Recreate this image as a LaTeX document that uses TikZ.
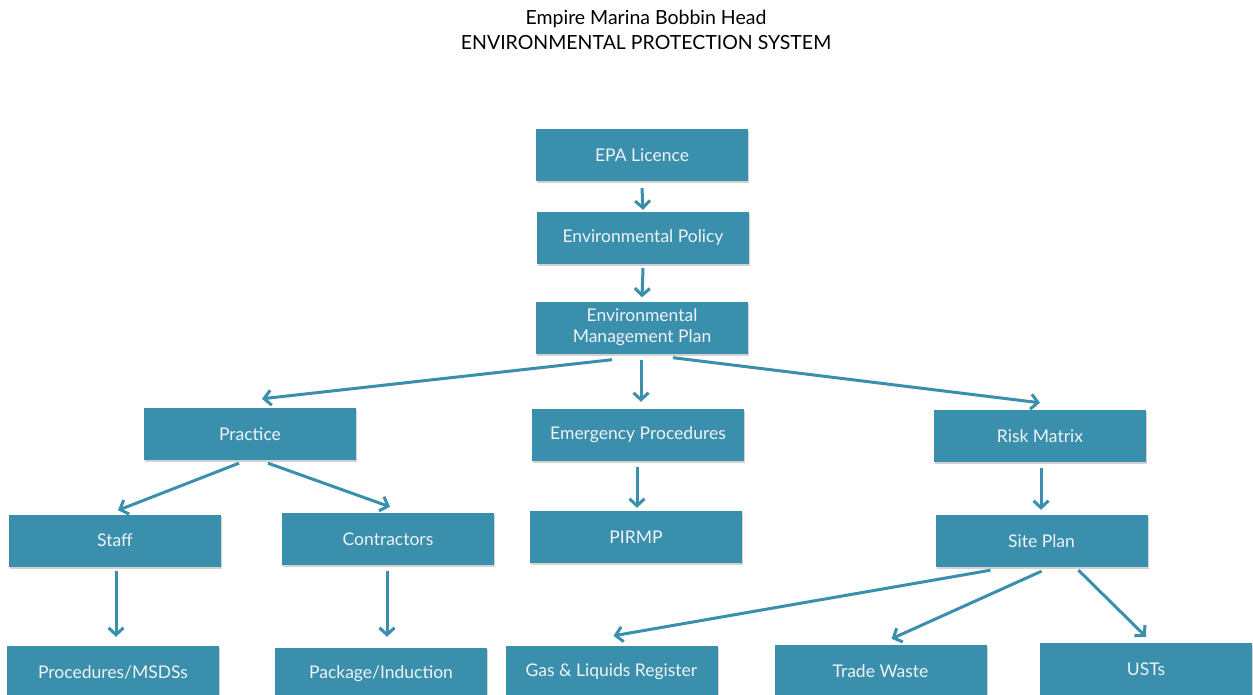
\documentclass[tikz,border=0pt]{standalone}
\usepackage{fontspec}
\setmainfont{Lato}
\usetikzlibrary{arrows.meta,shadows}
\definecolor{boxblue}{HTML}{3A8FAD}
\definecolor{boxtext}{HTML}{EEF3F5}
\tikzset{
  ebox/.style={draw=none, fill=boxblue, minimum width=212pt, minimum height=52pt,
    inner sep=2pt, text=boxtext, font=\fontsize{17.5}{21}\selectfont, align=center,
    drop shadow={shadow xshift=1pt, shadow yshift=-2pt, opacity=0.35}},
  conn/.style={draw=boxblue, line width=3pt,
    -{Straight Barb[length=7pt,width=15pt]}},
  ttl/.style={font=\fontsize{19.5}{23}\selectfont, text=black, inner sep=0pt}
}
\begin{document}
\begin{tikzpicture}[x=1pt,y=-1pt]
\useasboundingbox (0,0) rectangle (1253,695);
\clip (0,0) rectangle (1253,695);
\fill[white] (0,0) rectangle (1253,695);
\node[ttl] (t1) at (646,19) {Empire Marina Bobbin Head};
\node[ttl] (t2) at (646,43) {ENVIRONMENTAL PROTECTION SYSTEM};

\node[ebox] (epa) at (642,155) {EPA Licence};
\node[ebox] (pol) at (643,238) {Environmental Policy};
\node[ebox] (emp) at (642,327.5) {Environmental\\Management Plan};
\node[ebox] (prac) at (250,434) {Practice};
\node[ebox] (emer) at (638,435) {Emergency Procedures};
\node[ebox] (risk) at (1040,436) {Risk Matrix};
\node[ebox] (staff) at (115,540.5) {Staff};
\node[ebox] (contr) at (388,539) {Contractors};
\node[ebox] (pirmp) at (636,537) {PIRMP};
\node[ebox] (site) at (1041.5,541) {Site Plan};
\node[ebox] (proc) at (113,672) {Procedures/MSDSs};
\node[ebox] (pack) at (381,674) {Package/Induction};
\node[ebox] (gas) at (611.5,672) {Gas \& Liquids Register};
\node[ebox] (trade) at (880.5,671) {Trade Waste};
\node[ebox] (usts) at (1146,669) {USTs};

\draw[conn] ([yshift=-7pt]epa.south) -- ([yshift=2pt]pol.north);
\draw[conn] ([yshift=-4pt]pol.south) -- ([yshift=4pt]emp.north);
\draw[conn] ([xshift=-30pt,yshift=-6pt]emp.south) -- ([xshift=12pt,yshift=9pt]prac.north);
\draw[conn] ([xshift=-1pt,yshift=-6pt]emp.south) -- ([xshift=3pt,yshift=7pt]emer.north);
\draw[conn] ([xshift=31pt,yshift=-4pt]emp.south) -- ([xshift=0pt,yshift=7pt]risk.north);
\draw[conn] ([xshift=-11pt,yshift=-3pt]prac.south) -- ([xshift=3pt,yshift=4pt]staff.north);
\draw[conn] ([xshift=18pt,yshift=-3pt]prac.south) -- ([xshift=2pt,yshift=6pt]contr.north);
\draw[conn] ([xshift=-1pt,yshift=-6pt]emer.south) -- ([xshift=1pt,yshift=3pt]pirmp.north);
\draw[conn] ([xshift=1pt,yshift=-6pt]risk.south) -- ([xshift=-0.5pt,yshift=5pt]site.north);
\draw[conn] ([xshift=1pt,yshift=-4pt]staff.south) -- ([xshift=3pt,yshift=9pt]proc.north);
\draw[conn] ([xshift=-1pt,yshift=-6pt]contr.south) -- ([xshift=6pt,yshift=11pt]pack.north);
\draw[conn] ([xshift=-51pt,yshift=-3pt]site.south) -- ([xshift=2pt,yshift=10pt]gas.north);
\draw[conn] ([xshift=0pt,yshift=-4pt]site.south) -- ([xshift=11pt,yshift=6pt]trade.north);
\draw[conn] ([xshift=37pt,yshift=-3pt]site.south) -- ([xshift=0pt,yshift=6pt]usts.north);
\end{tikzpicture}
\end{document}
